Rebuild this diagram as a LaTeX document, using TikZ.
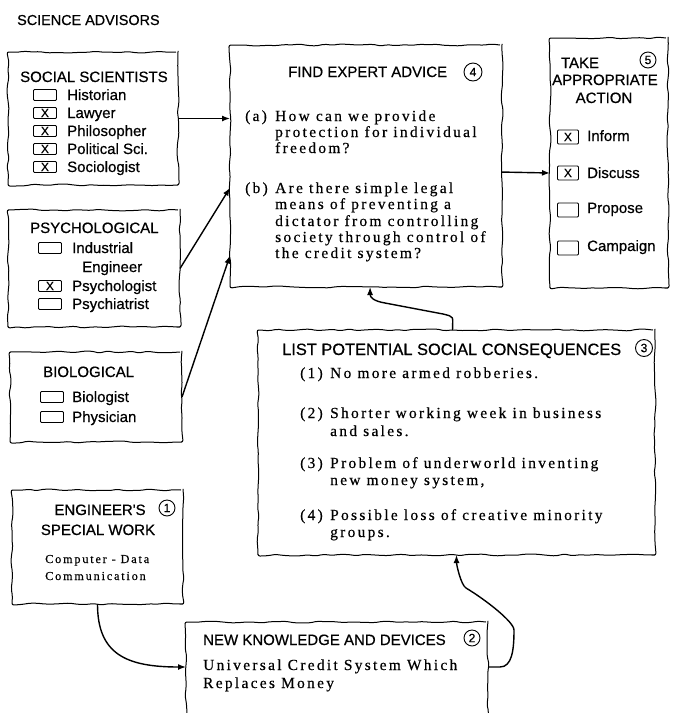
\documentclass[tikz,border=0pt]{standalone}
\usepackage{fontspec}
\setmainfont{Liberation Serif}
\newfontfamily\letterfont[FakeBold=0.6]{Liberation Sans}
\newfontfamily\typefont[LetterSpace=15, FakeBold=0.5]{Liberation Serif}
\usetikzlibrary{arrows.meta, positioning, calc, decorations.pathmorphing}

\begin{document}
\begin{tikzpicture}[
    x=1pt, y=-1pt, >={Latex[length=8pt, width=6pt]},
    card/.style={draw, line width=1pt, inner sep=0pt, outer sep=0pt,
      anchor=north west, rounded corners=2pt, decorate,
      decoration={random steps, segment length=8pt, amplitude=1pt}},
    head/.style={font=\letterfont\fontsize{15}{17}\selectfont,
      inner sep=0pt, anchor=base west},
    entry/.style={font=\letterfont\fontsize{15}{17}\selectfont,
      inner sep=0pt, anchor=base west},
    typed/.style={font=\typefont\fontsize{15.4}{16.5}\selectfont,
      inner sep=0pt, anchor=base west},
    tick/.style={draw, line width=0.9pt, rounded corners=1pt,
      minimum width=23pt, minimum height=11pt, inner sep=0pt,
      anchor=west, font=\letterfont\fontsize{12}{12}\selectfont},
    bigtick/.style={tick, minimum width=21pt, minimum height=14pt},
    numring/.style={draw, circle, line width=0.9pt, inner sep=0pt,
      minimum size=16pt, font=\letterfont\fontsize{12}{12}\selectfont},
    link/.style={->, line width=1.4pt}
  ]
  \useasboundingbox (0,0) rectangle (674,713);
  \clip (0,0) rectangle (674,713);
  \pgfmathsetseed{7}

  \node[head, font=\letterfont\fontsize{14.4}{16}\selectfont] (title)
    at (17,25) {SCIENCE ADVISORS};

  % advisor groups
  \node[card, minimum width=170pt, minimum height=133pt] (social) at (8,52) {};
  \node[head] (social-h) at (20,82) {SOCIAL SCIENTISTS};
  \node[tick] (hist-b) at (33,95) {};   \node[entry] (hist) at (67,100) {Historian};
  \node[tick] (lawy-b) at (33,113) {X}; \node[entry] (lawy) at (67,118) {Lawyer};
  \node[tick] (phil-b) at (33,131) {X}; \node[entry] (phil) at (67,136) {Philosopher};
  \node[tick] (poli-b) at (33,149) {X}; \node[entry] (poli) at (67,154) {Political Sci.};
  \node[tick] (soci-b) at (33,167) {X}; \node[entry] (soci) at (67,172) {Sociologist};

  \node[card, minimum width=172pt, minimum height=117pt] (psych) at (8,210) {};
  \node[head] (psych-h) at (30,233) {PSYCHOLOGICAL};
  \node[tick] (indu-b) at (38,248) {};  \node[entry] (indu) at (72,253) {Industrial};
  \node[entry] (engi) at (82,272) {Engineer};
  \node[tick] (psyl-b) at (38,286) {X}; \node[entry] (psyl) at (72,291) {Psychologist};
  \node[tick] (psyt-b) at (38,304) {};  \node[entry] (psyt) at (72,309) {Psychiatrist};

  \node[card, minimum width=172pt, minimum height=90pt] (bio) at (10,352) {};
  \node[head] (bio-h) at (43,377) {BIOLOGICAL};
  \node[tick] (biol-b) at (40,397) {};  \node[entry] (biol) at (72,402) {Biologist};
  \node[tick] (phys-b) at (40,417) {};  \node[entry] (phys) at (72,422) {Physician};

  % step 1 and 2
  \node[card, minimum width=171pt, minimum height=114pt] (engineer) at (12,490) {};
  \node[head, anchor=base] (engineer-h) at (100,515) {ENGINEER'S};
  \node[head, anchor=base] (engineer-h2) at (98,535) {SPECIAL WORK};
  \node[numring] (n1) at (167,508) {1};
  \node[typed, font=\typefont\fontsize{12.2}{14}\selectfont] (comp) at (45,563) {Computer - Data};
  \node[typed, font=\typefont\fontsize{12.2}{14}\selectfont] (comm) at (45,580) {Communication};

  \node[card, minimum width=302pt, minimum height=140pt] (knowledge) at (186,622) {};
  \node[head] (knowledge-h) at (203,645) {NEW KNOWLEDGE AND DEVICES};
  \node[numring] (n2) at (472,638) {2};
  \node[typed] (ucs) at (203,670) {Universal Credit System Which};
  \node[typed] (ucs2) at (203,688) {Replaces Money};

  % step 3
  \node[card, minimum width=397pt, minimum height=225pt] (conseq) at (258,330) {};
  \node[head, font=\letterfont\fontsize{16.4}{18}\selectfont] (conseq-h)
    at (282,355) {LIST POTENTIAL SOCIAL CONSEQUENCES};
  \node[numring, minimum size=17pt] (n3) at (644,348) {3};
  \node[typed] (c1) at (300,378) {(1)};
  \node[typed] (c1t) at (330,378) {No more armed robberies.};
  \node[typed] (c2) at (300,418) {(2)};
  \node[typed] (c2t) at (330,418) {Shorter working week in business};
  \node[typed] (c2u) at (330,436) {and sales.};
  \node[typed] (c3) at (300,468) {(3)};
  \node[typed] (c3t) at (330,468) {Problem of underworld inventing};
  \node[typed] (c3u) at (330,485) {new money system,};
  \node[typed] (c4) at (300,520) {(4)};
  \node[typed] (c4t) at (330,520) {Possible loss of creative minority};
  \node[typed] (c4u) at (330,537) {groups.};

  % step 4
  \node[card, minimum width=272pt, minimum height=242pt] (advice) at (230,45) {};
  \node[head] (advice-h) at (288,77) {FIND EXPERT ADVICE};
  \node[numring, minimum size=18pt] (n4) at (473,72) {4};
  \node[typed] (qa) at (245,121) {(a)};
  \node[typed] (qa1) at (275,121) {How can we provide};
  \node[typed] (qa2) at (275,137) {protection for individual};
  \node[typed] (qa3) at (275,153) {freedom?};
  \node[typed] (qb) at (245,193) {(b)};
  \node[typed] (qb1) at (275,193) {Are there simple legal};
  \node[typed] (qb2) at (275,209) {means of preventing a};
  \node[typed] (qb3) at (275,226) {dictator from controlling};
  \node[typed] (qb4) at (275,242) {society through control of};
  \node[typed] (qb5) at (275,258) {the credit system?};

  % step 5
  \node[card, minimum width=118pt, minimum height=250pt] (action) at (550,38) {};
  \node[head, anchor=base] (action-h) at (580,68) {TAKE};
  \node[head, anchor=base] (action-h2) at (605,85) {APPROPRIATE};
  \node[head, anchor=base] (action-h3) at (604,103) {ACTION};
  \node[numring] (n5) at (648,60) {5};
  \node[bigtick] (info-b) at (557,137) {X}; \node[entry] (info) at (587,141) {Inform};
  \node[bigtick] (disc-b) at (557,173) {X}; \node[entry] (disc) at (587,178) {Discuss};
  \node[bigtick] (prop-b) at (557,210) {};  \node[entry] (prop) at (587,213) {Propose};
  \node[bigtick] (camp-b) at (557,248) {};  \node[entry] (camp) at (587,251) {Campaign};

  % connectors
  \coordinate (c3a) at (443,314);
  \coordinate (c3b) at (385,303);
  \coordinate (c2a) at (514,630);
  \coordinate (c2b) at (466,588);
  \draw[link] (social.east) -- (social.east -| advice.west);
  \draw[link] (psych.east) -- ($(advice.north west)!0.59!(advice.south west)$);
  \draw[link] (bio.east) -- ($(advice.north west)!0.87!(advice.south west)$);
  \draw[link] ($(advice.north east)!0.525!(advice.south east)$)
    -- ($(action.north west)!0.54!(action.south west)$);
  \draw[link] ($(conseq.north west)!0.49!(conseq.north east)$)
    .. controls +(0,-14) and +(12,3) .. (c3a) -- (c3b)
    .. controls +(-12,-2) and +(0,10) .. ($(advice.south west)!0.515!(advice.south east)$);
  \draw[link] (engineer.south) .. controls +(0,50) and +(-60,0)
    .. ($(knowledge.north west)+(0,45)$);
  \draw[link] ($(knowledge.north east)+(0,45)$) -- ++(12,0)
    .. controls +(12,0) and +(0,20) .. (c2a)
    .. controls +(0,-8) and +(20,12) .. (c2b)
    .. controls +(-5,-3) and +(0,10) .. (conseq.south);
\end{tikzpicture}
\end{document}
